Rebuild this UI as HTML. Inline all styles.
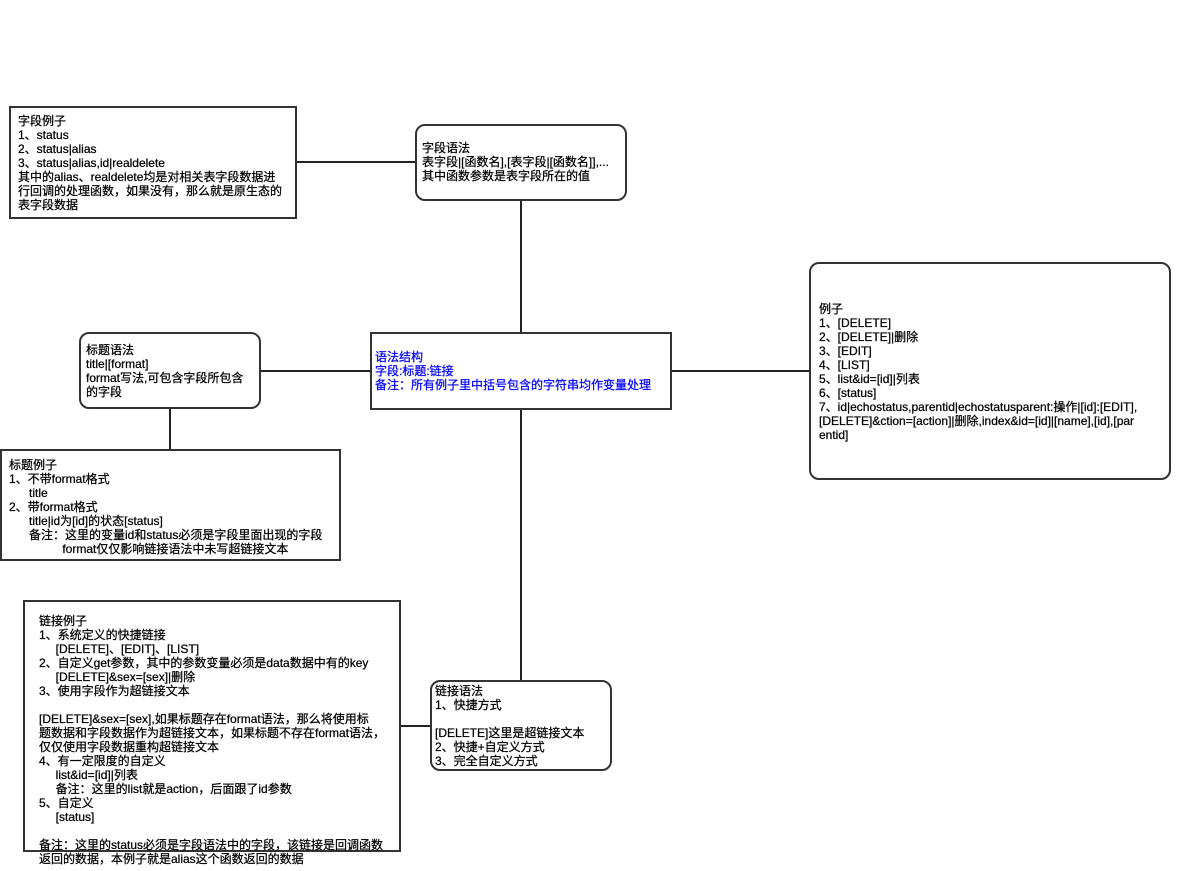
<!DOCTYPE html>
<html><head><meta charset="utf-8"><style>
html,body{margin:0;padding:0;background:#fff;}
body{width:1190px;height:871px;position:relative;overflow:hidden;font-family:"Liberation Sans","Noto Sans CJK SC",sans-serif;font-size:12px;color:#000;}
.b{position:absolute;border:2px solid #333;background:#fff;box-sizing:border-box;}
.r{border-radius:10px;}
.t{position:absolute;white-space:pre;line-height:14px;font-size:12px;-webkit-text-stroke:0.25px currentColor;}
.l{position:absolute;background:#222;}
</style></head><body>
<div class="l" style="left:296px;top:161px;width:120px;height:2px"></div>
<div class="l" style="left:520px;top:200px;width:2px;height:134px"></div>
<div class="l" style="left:260px;top:370px;width:112px;height:2px"></div>
<div class="l" style="left:670px;top:370px;width:141px;height:2px"></div>
<div class="l" style="left:169px;top:407px;width:2px;height:44px"></div>
<div class="l" style="left:520px;top:408px;width:2px;height:274px"></div>
<div class="l" style="left:399px;top:725px;width:33px;height:2px"></div>

<div class="b" style="left:9px;top:106px;width:288px;height:113px"></div>
<div class="t" style="left:18px;top:114px">字段例子
1、status
2、status|alias
3、status|alias,id|realdelete
其中的alias、realdelete均是对相关表字段数据进
行回调的处理函数，如果没有，那么就是原生态的
表字段数据</div>

<div class="b r" style="left:415px;top:124px;width:212px;height:77px"></div>
<div class="t" style="left:422px;top:141px">字段语法
表字段|[函数名],[表字段|[函数名]],...
其中函数参数是表字段所在的值</div>

<div class="b r" style="left:809px;top:262px;width:362px;height:218px"></div>
<div class="t" style="left:819px;top:302px">例子
1、[DELETE]
2、[DELETE]|删除
3、[EDIT]
4、[LIST]
5、list&amp;id=[id]|列表
6、[status]
7、id|echostatus,parentid|echostatusparent:操作|[id]:[EDIT],
[DELETE]&amp;ction=[action]|删除,index&amp;id=[id]|[name],[id],[par
entid]</div>

<div class="b r" style="left:79px;top:332px;width:182px;height:77px"></div>
<div class="t" style="left:86px;top:343px">标题语法
title|[format]
format写法,可包含字段所包含
的字段</div>

<div class="b" style="left:370px;top:332px;width:302px;height:78px"></div>
<div class="t" style="left:375px;top:350px;color:#00f">语法结构
字段:标题:链接
备注：所有例子里中括号包含的字符串均作变量处理</div>

<div class="b" style="left:0px;top:449px;width:341px;height:112px"></div>
<div class="t" style="left:9px;top:458px">标题例子
1、不带format格式
      title
2、带format格式
      title|id为[id]的状态[status]
      备注：这里的变量id和status必须是字段里面出现的字段
                format仅仅影响链接语法中未写超链接文本</div>

<div class="b" style="left:23px;top:600px;width:378px;height:252px"></div>
<div class="t" style="left:39px;top:614px">链接例子
1、系统定义的快捷链接
     [DELETE]、[EDIT]、[LIST]
2、自定义get参数，其中的参数变量必须是data数据中有的key
     [DELETE]&amp;sex=[sex]|删除
3、使用字段作为超链接文本

[DELETE]&amp;sex=[sex],如果标题存在format语法，那么将使用标
题数据和字段数据作为超链接文本，如果标题不存在format语法，
仅仅使用字段数据重构超链接文本
4、有一定限度的自定义
     list&amp;id=[id]|列表
     备注：这里的list就是action，后面跟了id参数
5、自定义
     [status]

备注：这里的status必须是字段语法中的字段，该链接是回调函数
返回的数据，本例子就是alias这个函数返回的数据</div>

<div class="b r" style="left:430px;top:680px;width:182px;height:91px"></div>
<div class="t" style="left:435px;top:684px">链接语法
1、快捷方式

[DELETE]这里是超链接文本
2、快捷+自定义方式
3、完全自定义方式</div>
</body></html>
